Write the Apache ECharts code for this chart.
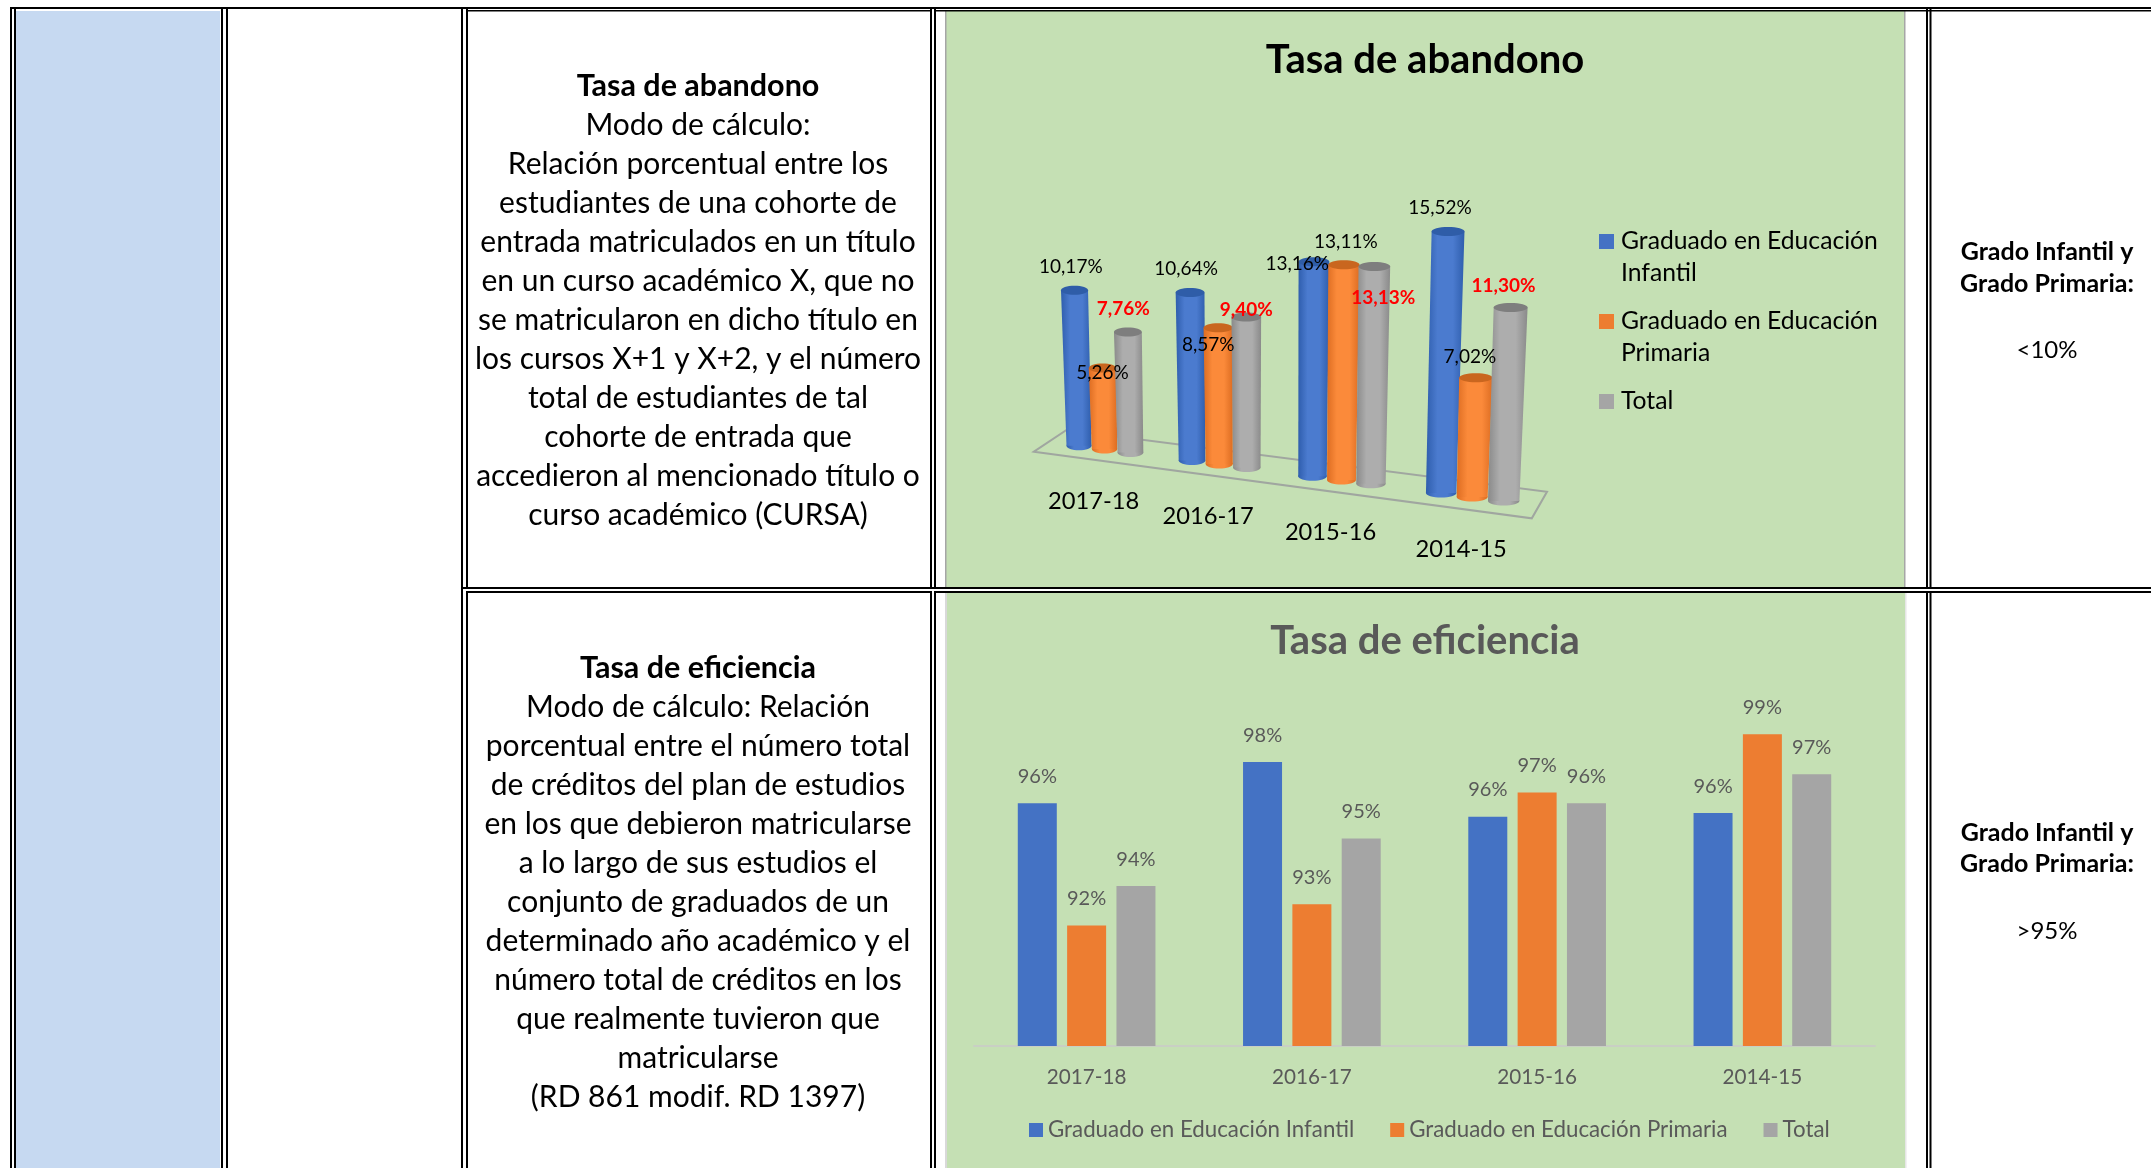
<!DOCTYPE html>
<html>
<head>
<meta charset="utf-8">
<title>Tasa de abandono / Tasa de eficiencia</title>
<style>
html, body { margin: 0; padding: 0; background: #fff; }
#main { width: 2151px; height: 1168px; }
</style>
<script src="https://cdn.jsdelivr.net/npm/echarts@6/dist/echarts.min.js"></script>
</head>
<body>
<div id="main"></div>
<script>
var cursos = ['2017-18', '2016-17', '2015-16', '2014-15'];
var serieNames = ['Graduado en Educación Infantil', 'Graduado en Educación Primaria', 'Total'];

// tasa de abandono (%)
var abandonoInfantil = [10.17, 10.64, 13.16, 15.52];
var abandonoPrimaria = [5.26, 8.57, 13.11, 7.02];
var abandonoTotal = [7.76, 9.40, 13.13, 11.30];

var eficienciaInfantil = [96.46, 97.92, 95.98, 96.11];
var eficienciaPrimaria = [92.12, 92.88, 96.84, 98.91];
var eficienciaTotal = [93.52, 95.21, 96.46, 97.49];

var textoAbandono = ['Modo de cálculo:', 'Relación porcentual entre los', 'estudiantes de una cohorte de',
  'entrada matriculados en un título', 'en un curso académico X, que no', 'se matricularon en dicho título en',
  'los cursos X+1 y X+2, y el número', 'total de estudiantes de tal', 'cohorte de entrada que',
  'accedieron al mencionado título o', 'curso académico (CURSA)'];
var textoEficiencia = ['Modo de cálculo: Relación', 'porcentual entre el número total', 'de créditos del plan de estudios',
  'en los que debieron matricularse', 'a lo largo de sus estudios el', 'conjunto de graduados de un',
  'determinado año académico y el', 'número total de créditos en los', 'que realmente tuvieron que',
  'matricularse', '(RD 861 modif. RD 1397)'];

var FONT = 'Lato';
var azul = '#4472c4', naranja = '#ed7d31', gris = '#a5a5a5', verde = '#c5e0b4';

// perspectiva del grafico 3D
var origenX = 1104.5, persp = 0.00028, pendiente = 0.1305, vertical = 0.000153, centroX = 1269;
var separacion = 25.7;
var cilindros = [
  { dark: '#2f5ead', light: '#4b7bcf', top: '#2f5da8' },
  { dark: '#dd6d22', light: '#fb8a3a', top: '#c9661f' },
  { dark: '#8a8a8a', light: '#adadad', top: '#7e7e7e' }
];
// desplazamiento a mano de cada etiqueta respecto a la tapa del cilindro
var ajusteEtiquetas = [
  [[-3.7, -23], [-4, -23.6], [-16.7, 1.7], [-8, -23.3]],
  [[0, 4.7], [-10, 17], [2, -22.6], [-6, -21.3]],
  [[-4.5, -23.4], [0, -7.6], [9, 31.7], [-7, -21.3]]
];

function base3d(api, cat, off) {
  var p = api.coord([cat, 0]);
  var t = p[0] + off - origenX;
  var s = 1 / (1 - persp * t);
  var x = origenX + t * s;
  return { x: x, y: p[1] + pendiente * (x - origenX), s: s, y0: p[1] };
}

function cilindro(idx) {
  return function (params, api) {
    var cat = api.value(0), val = api.value(1);
    var b = base3d(api, cat, (idx - 1) * separacion);
    var h = (b.y0 - api.coord([cat, val])[1]) * b.s;
    var rb = 12.7 * b.s * b.s;
    var rt = rb * 1.08;
    var tx = b.x + vertical * h * (b.x - centroX);
    var ty = b.y - h;
    var c = cilindros[idx];
    var fill = {
      type: 'linear', x: 0, y: 0, x2: 1, y2: 0,
      colorStops: [{ offset: 0, color: c.dark }, { offset: 0.3, color: c.light }, { offset: 0.7, color: c.light }, { offset: 1, color: c.dark }]
    };
    var aj = ajusteEtiquetas[idx][cat];
    var rojo = idx === 2;
    return {
      type: 'group',
      children: [
        { type: 'ellipse', shape: { cx: b.x, cy: b.y, rx: rb, ry: 4.5 }, style: { fill: fill } },
        { type: 'polygon', shape: { points: [[tx - rt, ty], [tx + rt, ty], [b.x + rb, b.y], [b.x - rb, b.y]] }, style: { fill: fill } },
        { type: 'ellipse', shape: { cx: tx, cy: ty, rx: rt, ry: 4.5 }, style: { fill: c.top } },
        {
          type: 'text', z2: 100,
          style: {
            x: tx + aj[0], y: ty + aj[1], align: 'center', verticalAlign: 'middle',
            text: val.toFixed(2).replace('.', ',') + '%',
            font: (rojo ? 'bold ' : '') + '19px ' + FONT,
            fill: rojo ? '#ff0000' : '#000'
          }
        }
      ]
    };
  };
}

function etiquetaCurso(params, api) {
  var cat = api.value(0);
  var b = base3d(api, cat, 0);
  return {
    type: 'text',
    style: {
      x: b.x - 11, y: b.y + 52, align: 'center', verticalAlign: 'middle',
      text: cursos[cat], font: '23.7px ' + FONT, fill: '#000'
    }
  };
}

function pares(arr) {
  return arr.map(function (v, i) { return [i, v]; });
}

function barra(name, data, color) {
  return {
    name: name, type: 'bar', xAxisIndex: 1, yAxisIndex: 1, data: data,
    barWidth: 39, barGap: '26.5%', itemStyle: { color: color },
    label: {
      show: true, position: 'top', distance: 17, color: '#595959', fontFamily: FONT, fontSize: 20,
      formatter: function (p) { return Math.round(p.value) + '%'; }
    }
  };
}

// tabla y paneles de fondo
var g = [];
function rect(x, y, w, h, fill) {
  g.push({ type: 'rect', shape: { x: x, y: y, width: w, height: h }, style: { fill: fill }, silent: true });
}
function txt(x, y, text, font, fill) {
  g.push({ type: 'text', style: { x: x, y: y, text: text, font: font, fill: fill || '#000', align: 'center', verticalAlign: 'middle' }, silent: true });
}

rect(16, 11, 204, 1157, '#c6d9f1');
rect(945, 11, 960, 576, verde);
rect(1904, 11, 1.5, 576, '#a6a6a6');
rect(945, 11, 1.5, 576, '#a6a6a6');
rect(945, 593, 961, 575, verde);
rect(945, 593, 2, 575, '#d9d9d9');
rect(1905, 593, 1.5, 575, '#e6e6e6');

// lineas verticales dobles
[[10, 2], [14, 2], [221, 2], [226, 2], [461, 2], [466, 2], [930, 2], [934, 2], [1926, 2], [1929.5, 2]].forEach(function (l) {
  rect(l[0], 7, l[1], 1161, '#000');
});
// lineas horizontales
rect(10, 7, 2141, 2, '#000');
rect(466, 10, 466, 1.5, '#000');
rect(934, 10, 1217, 1.5, '#000');
rect(466, 589, 1685, 2, '#fff');
rect(461, 587, 1690, 2, '#000');
rect(466, 591, 466, 2, '#000');
rect(934, 591, 1217, 2, '#000');

txt(698, 86, 'Tasa de abandono', 'bold 30.5px ' + FONT);
textoAbandono.forEach(function (s, i) { txt(698, 125.5 + i * 39, s, '30px ' + FONT); });
txt(698, 668, 'Tasa de eficiencia', 'bold 30.5px ' + FONT);
textoEficiencia.forEach(function (s, i) { txt(698, 707.5 + i * 39, s, '30px ' + FONT); });

txt(2047, 252, 'Grado Infantil y', 'bold 25px ' + FONT);
txt(2047, 284, 'Grado Primaria:', 'bold 25px ' + FONT);
txt(2047, 350, '<10%', '24px ' + FONT);
txt(2047, 833, 'Grado Infantil y', 'bold 25px ' + FONT);
txt(2047, 864, 'Grado Primaria:', 'bold 25px ' + FONT);
txt(2047, 931.5, '>95%', '24px ' + FONT);

// suelo del grafico 3D
g.push({
  type: 'polygon', silent: true,
  shape: { points: [[1033.9, 451.7], [1531.8, 518.3], [1547, 491.7], [1066.5, 430]] },
  style: { fill: 'none', stroke: '#a0a6a0', lineWidth: 2 }
});

// leyenda del grafico 3D
[[241.5, 'Graduado en Educación', 'Infantil', azul], [321.5, 'Graduado en Educación', 'Primaria', naranja], [401.5, 'Total', '', gris]].forEach(function (l) {
  rect(1599, l[0] - 7.5, 15, 15, l[3]);
  g.push({ type: 'text', silent: true, style: { x: 1621, y: l[0], text: l[1], font: '24.7px ' + FONT, fill: '#000', verticalAlign: 'middle' } });
  if (l[2]) {
    g.push({ type: 'text', silent: true, style: { x: 1621, y: l[0] + 32, text: l[2], font: '24.7px ' + FONT, fill: '#000', verticalAlign: 'middle' } });
  }
});

var option = {
  animation: false,
  backgroundColor: '#fff',
  textStyle: { fontFamily: FONT },
  title: [
    { text: 'Tasa de abandono', left: 1420, top: 55, textAlign: 'center', textVerticalAlign: 'middle', textStyle: { fontFamily: FONT, fontWeight: 'bold', fontSize: 40, color: '#000' } },
    { text: 'Tasa de eficiencia', left: 1420, top: 636, textAlign: 'center', textVerticalAlign: 'middle', textStyle: { fontFamily: FONT, fontWeight: 'bold', fontSize: 40, color: '#595959' } }
  ],
  grid: [
    { left: 1049, top: 202.6, width: 444.4, height: 246.4 },
    { left: 974, top: 703.4, width: 901, height: 342.6 }
  ],
  xAxis: [
    { type: 'category', gridIndex: 0, data: cursos, show: false },
    {
      type: 'category', gridIndex: 1, data: cursos,
      axisLine: { lineStyle: { color: '#c9cfc4', width: 2 } }, axisTick: { show: false },
      axisLabel: { color: '#595959', fontFamily: FONT, fontSize: 20.7, margin: 21 }
    }
  ],
  yAxis: [
    { type: 'value', gridIndex: 0, min: 0, max: 16, show: false },
    { type: 'value', gridIndex: 1, min: 87.85, max: 100, show: false }
  ],
  legend: {
    data: serieNames, left: 1029, top: 1119, padding: 0, itemWidth: 14, itemHeight: 14, itemGap: 36, icon: 'rect',
    itemStyle: { borderWidth: 0 }, selectedMode: false,
    textStyle: { color: '#595959', fontFamily: FONT, fontSize: 22.3 }
  },
  graphic: { elements: g },
  series: [
    barra(serieNames[0], eficienciaInfantil, azul),
    barra(serieNames[1], eficienciaPrimaria, naranja),
    barra(serieNames[2], eficienciaTotal, gris),
    { name: 'abandono infantil', type: 'custom', xAxisIndex: 0, yAxisIndex: 0, clip: false, renderItem: cilindro(0), encode: { x: 0, y: 1 }, data: pares(abandonoInfantil) },
    { name: 'abandono primaria', type: 'custom', xAxisIndex: 0, yAxisIndex: 0, clip: false, renderItem: cilindro(1), encode: { x: 0, y: 1 }, data: pares(abandonoPrimaria) },
    { name: 'abandono total', type: 'custom', xAxisIndex: 0, yAxisIndex: 0, clip: false, renderItem: cilindro(2), encode: { x: 0, y: 1 }, data: pares(abandonoTotal) },
    { name: 'cursos', type: 'custom', xAxisIndex: 0, yAxisIndex: 0, clip: false, renderItem: etiquetaCurso, encode: { x: 0, y: 1 }, data: pares([0, 0, 0, 0]) }
  ]
};

var myChart = echarts.init(document.getElementById('main'));
myChart.setOption(option);
</script>
</body>
</html>
